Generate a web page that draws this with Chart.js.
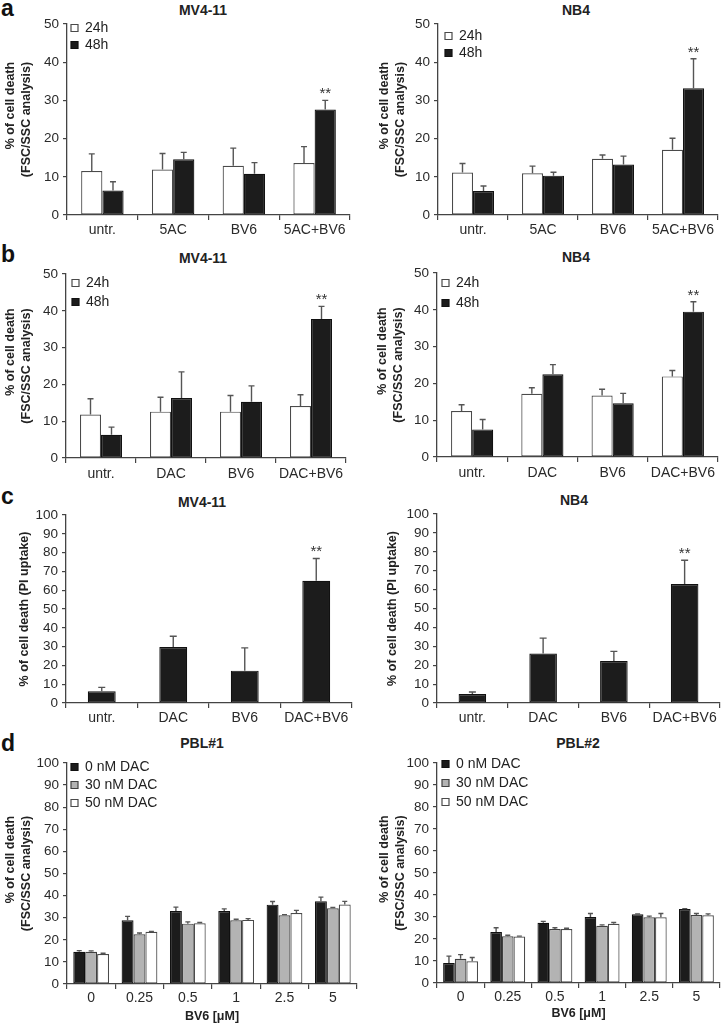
<!DOCTYPE html>
<html>
<head>
<meta charset="utf-8">
<script src="https://cdn.jsdelivr.net/npm/chart.js@4.4.1/dist/chart.umd.min.js"></script>
<style>
html,body{margin:0;padding:0;background:#fff;}
body{width:722px;height:1024px;overflow:hidden;position:relative;font-family:"Liberation Sans",Arial,sans-serif;}
canvas{position:absolute;}
.ttl{position:absolute;font-weight:bold;font-size:14px;line-height:16px;color:#222;transform:translateX(-50%);white-space:nowrap;}
.lbl{position:absolute;font-weight:bold;font-size:23px;line-height:23px;color:#111;}
</style>
</head>
<body>
<div class="lbl" style="left:1px;top:-3px">a</div>
<div class="lbl" style="left:1px;top:243px">b</div>
<div class="lbl" style="left:1px;top:485px">c</div>
<div class="lbl" style="left:1px;top:732px">d</div>
<div class="ttl" style="left:203px;top:2px">MV4-11</div>
<div class="ttl" style="left:576px;top:2px">NB4</div>
<div class="ttl" style="left:203px;top:250px">MV4-11</div>
<div class="ttl" style="left:576px;top:249px">NB4</div>
<div class="ttl" style="left:202px;top:494px">MV4-11</div>
<div class="ttl" style="left:574px;top:492px">NB4</div>
<div class="ttl" style="left:202px;top:735px">PBL#1</div>
<div class="ttl" style="left:578px;top:735px">PBL#2</div>
<script>
// ---------------- DATA ----------------
const catsA = ['untr.', '5AC', 'BV6', '5AC+BV6'];
const catsB = ['untr.', 'DAC', 'BV6', 'DAC+BV6'];
const catsD = ['0', '0.25', '0.5', '1', '2.5', '5'];
const ticks50 = [0, 10, 20, 30, 40, 50];
const ticks100 = [0, 10, 20, 30, 40, 50, 60, 70, 80, 90, 100];
const stars4 = ['', '', '', '**'];

// panel a: 5AC
const aMV_24h = [11.5, 11.9, 12.9, 13.6];
const aMV_24h_sd = [4.5, 4.2, 4.6, 4.3];
const aMV_48h = [6.4, 14.6, 10.8, 27.6];
const aMV_48h_sd = [2.3, 1.8, 2.9, 2.4];
const aNB_24h = [11.1, 10.9, 14.7, 17.1];
const aNB_24h_sd = [2.4, 1.9, 1.0, 3.0];
const aNB_48h = [6.3, 10.3, 13.2, 33.2];
const aNB_48h_sd = [1.3, 0.9, 2.2, 7.7];

// panel b: DAC (FSC/SSC)
const bMV_24h = [11.8, 12.6, 12.6, 14.1];
const bMV_24h_sd = [4.3, 3.9, 4.4, 3.1];
const bMV_48h = [6.3, 16.3, 15.3, 37.8];
const bMV_48h_sd = [2.1, 7.1, 4.3, 3.4];
const bNB_24h = [12.5, 17.2, 16.7, 21.9];
const bNB_24h_sd = [1.7, 1.6, 1.7, 1.6];
const bNB_48h = [7.5, 22.5, 14.6, 39.5];
const bNB_48h_sd = [2.7, 2.6, 2.7, 2.7];

// panel c: DAC (PI uptake)
const cMV = [6.2, 29.8, 17.2, 65.0];
const cMV_sd = [2.1, 5.7, 12.1, 11.9];
const cNB = [4.8, 26.2, 22.2, 62.9];
const cNB_sd = [1.0, 8.1, 5.1, 12.6];

// panel d: PBL
const d1_0 = [14.6, 28.8, 33.0, 33.0, 35.9, 37.5];
const d1_0_sd = [0.5, 1.8, 1.8, 1.0, 1.4, 1.8];
const d1_30 = [14.6, 22.5, 27.3, 28.8, 31.1, 34.3];
const d1_30_sd = [0.4, 0.6, 0.8, 0.5, 0.3, 0.3];
const d1_50 = [13.6, 23.6, 27.5, 29.0, 32.1, 36.0];
const d1_50_sd = [0.3, 0.2, 0.3, 0.6, 1.2, 1.4];
const d2_0 = [9.1, 23.2, 27.4, 30.0, 31.2, 33.6];
const d2_0_sd = [3.1, 1.9, 0.6, 1.6, 0.2, 0.2];
const d2_30 = [11.0, 21.2, 24.5, 26.0, 29.9, 30.9];
const d2_30_sd = [1.9, 0.5, 0.6, 0.4, 0.5, 0.7];
const d2_50 = [9.9, 21.1, 24.5, 26.9, 29.9, 30.8];
const d2_50_sd = [1.7, 0.2, 0.4, 0.6, 1.7, 0.6];

// ---------------- STYLE / LAYOUT ----------------
const FONT = '"Liberation Sans", Arial, sans-serif';
const STYLE = {
  black: {fill: '#1c1c1c', stroke: '#111'},
  white: {fill: '#ffffff', stroke: '#4a4a4a'},
  grey:  {fill: '#b3b3b3', stroke: '#404040'}
};
const LAYOUT = {
  aL: {x:0,   y:0,   w:361, h:245, pt:24, pr:11, yw:67, xh:30, tp:3,  tickPad:2},
  aR: {x:361, y:0,   w:361, h:245, pt:24, pr:4,  yw:77, xh:30, tp:16, tickPad:2},
  bL: {x:0,   y:245, w:361, h:240, pt:29, pr:15, yw:66, xh:27, tp:3,  tickPad:3},
  bR: {x:361, y:245, w:361, h:240, pt:28, pr:4,  yw:76, xh:28, tp:14, tickPad:3},
  cL: {x:0,   y:485, w:361, h:250, pt:30, pr:9,  yw:66, xh:32, tp:17, tickPad:2},
  cR: {x:361, y:485, w:361, h:250, pt:29, pr:2,  yw:76, xh:32, tp:24, tickPad:2},
  dL: {x:0,   y:735, w:361, h:289, pt:28, pr:4,  yw:67, xh:40, tp:3,  tickPad:1, xtPad:0},
  dR: {x:361, y:735, w:361, h:289, pt:28, pr:2,  yw:76, xh:41, tp:16, tickPad:1, xtPad:3}
};
const LEGEND_POS = {
  aL: {x:71, y:28, pad:3},
  aR: {x:84, y:36, pad:3},
  bL: {x:72, y:38, pad:5},
  bR: {x:81, y:38, pad:6},
  dL: {x:71, y:32, pad:4},
  dR: {x:81, y:29, pad:5}
};
const Y_TITLE_2 = ['\u00a0'.repeat(8) + '% of cell death', '(FSC/SSC analysis)'];
const Y_TITLE_PI = '% of cell death (PI uptake)';

// ---------------- PLUGINS ----------------
const errorBarsPlugin = {
  id: 'errorBars',
  afterDatasetsDraw(chart, args, opts) {
    const ctx = chart.ctx, y = chart.scales.y;
    chart.data.datasets.forEach((ds, di) => {
      const meta = chart.getDatasetMeta(di);
      meta.data.forEach((bar, i) => {
        const v = ds.data[i];
        const e = ds.errors ? ds.errors[i] : null;
        let yCap = bar.y;
        if (e != null) {
          yCap = y.getPixelForValue(v + e);
          ctx.save();
          ctx.strokeStyle = '#555';
          ctx.lineWidth = 1.4;
          ctx.beginPath();
          ctx.moveTo(bar.x, bar.y);
          ctx.lineTo(bar.x, yCap);
          ctx.moveTo(bar.x - opts.cap, yCap);
          ctx.lineTo(bar.x + opts.cap, yCap);
          ctx.stroke();
          ctx.restore();
        }
        if (ds.stars && ds.stars[i]) {
          ctx.save();
          ctx.fillStyle = '#333';
          ctx.font = '15px ' + FONT;
          ctx.textAlign = 'center';
          ctx.textBaseline = 'alphabetic';
          ctx.fillText(ds.stars[i], bar.x, yCap - 2);
          ctx.restore();
        }
      });
    });
  }
};
const legendPlacePlugin = {
  id: 'legendPlace',
  afterLayout(chart, args, opts) {
    const lg = chart.legend;
    if (!lg || opts.x == null) return;
    const ih = 14;
    lg.left = opts.x - opts.pad;
    lg.top = opts.y - ih / 2 - opts.pad;
    lg.right = lg.left + lg.width;
    lg.bottom = lg.top + lg.height;
  }
};

// ---------------- BUILDER ----------------
function makeChart(key, labels, series, o) {
  const g = LAYOUT[key];
  const lp = LEGEND_POS[key];
  const cv = document.createElement('canvas');
  cv.width = g.w; cv.height = g.h;
  cv.style.left = g.x + 'px'; cv.style.top = g.y + 'px';
  cv.style.width = g.w + 'px'; cv.style.height = g.h + 'px';
  document.body.appendChild(cv);
  new Chart(cv, {
    type: 'bar',
    data: {
      labels: labels,
      datasets: series.map(s => ({
        label: s.label,
        data: s.data,
        errors: s.err,
        stars: s.stars,
        backgroundColor: STYLE[s.style].fill,
        borderColor: STYLE[s.style].stroke,
        borderWidth: 1.2,
        borderSkipped: false,
        categoryPercentage: o.catPct,
        barPercentage: 1
      }))
    },
    options: {
      responsive: false,
      animation: false,
      devicePixelRatio: 1,
      layout: {padding: {left: 0, top: g.pt, right: g.pr, bottom: 0}},
      plugins: {
        tooltip: {enabled: false},
        errorBars: {cap: o.cap},
        legendPlace: lp || {},
        legend: lp ? {
          display: true,
          position: 'chartArea',
          align: 'start',
          labels: {
            boxWidth: 7, boxHeight: 7, padding: lp.pad,
            color: '#222',
            font: {family: FONT, size: 14}
          }
        } : {display: false}
      },
      scales: {
        x: {
          type: 'category',
          offset: true,
          grid: {offset: true, drawOnChartArea: false, drawTicks: true, tickLength: 5, color: '#444', lineWidth: 1.2},
          border: {display: true, color: '#444', width: 1.3},
          ticks: {color: '#2a2a2a', font: {family: FONT, size: 14}, padding: g.tickPad, autoSkip: false, maxRotation: 0},
          title: o.xTitle ? {display: true, text: o.xTitle, color: '#222',
                  font: {family: FONT, size: 12.5, weight: 'bold', lineHeight: 1.2},
                  padding: {top: 0, bottom: g.xtPad || 0}} : {display: false},
          afterFit: s => { s.height = g.xh; }
        },
        y: {
          min: 0,
          max: o.yTicks[o.yTicks.length - 1],
          afterBuildTicks: s => { s.ticks = o.yTicks.map(v => ({value: v})); },
          grid: {drawOnChartArea: false, drawTicks: true, tickLength: 4, color: '#444', lineWidth: 1.2},
          border: {display: true, color: '#444', width: 1.3},
          ticks: {color: '#2a2a2a', font: {family: FONT, size: 13.5}, padding: 4, autoSkip: false},
          title: {display: true, text: o.yTitle, color: '#222',
                  font: {family: FONT, size: 12.5, weight: 'bold', lineHeight: 1.25},
                  padding: {top: g.tp, bottom: 0}},
          afterFit: s => { s.width = g.yw; }
        }
      }
    },
    plugins: [errorBarsPlugin, legendPlacePlugin]
  });
}

const ab = {catPct: 0.6, cap: 3, yTicks: ticks50, yTitle: Y_TITLE_2};
const cc = {catPct: 0.39, cap: 3.5, yTicks: ticks100, yTitle: Y_TITLE_PI};
const dd = {catPct: 0.74, cap: 2.5, yTicks: ticks100, yTitle: Y_TITLE_2, xTitle: 'BV6 [\u03bcM]'};

makeChart('aL', catsA, [
  {label: '24h', data: aMV_24h, err: aMV_24h_sd, style: 'white'},
  {label: '48h', data: aMV_48h, err: aMV_48h_sd, style: 'black', stars: stars4}
], ab);
makeChart('aR', catsA, [
  {label: '24h', data: aNB_24h, err: aNB_24h_sd, style: 'white'},
  {label: '48h', data: aNB_48h, err: aNB_48h_sd, style: 'black', stars: stars4}
], ab);
makeChart('bL', catsB, [
  {label: '24h', data: bMV_24h, err: bMV_24h_sd, style: 'white'},
  {label: '48h', data: bMV_48h, err: bMV_48h_sd, style: 'black', stars: stars4}
], ab);
makeChart('bR', catsB, [
  {label: '24h', data: bNB_24h, err: bNB_24h_sd, style: 'white'},
  {label: '48h', data: bNB_48h, err: bNB_48h_sd, style: 'black', stars: stars4}
], ab);
makeChart('cL', catsB, [
  {label: 'PI', data: cMV, err: cMV_sd, style: 'black', stars: stars4}
], cc);
makeChart('cR', catsB, [
  {label: 'PI', data: cNB, err: cNB_sd, style: 'black', stars: stars4}
], cc);
makeChart('dL', catsD, [
  {label: '0 nM DAC', data: d1_0, err: d1_0_sd, style: 'black'},
  {label: '30 nM DAC', data: d1_30, err: d1_30_sd, style: 'grey'},
  {label: '50 nM DAC', data: d1_50, err: d1_50_sd, style: 'white'}
], dd);
makeChart('dR', catsD, [
  {label: '0 nM DAC', data: d2_0, err: d2_0_sd, style: 'black'},
  {label: '30 nM DAC', data: d2_30, err: d2_30_sd, style: 'grey'},
  {label: '50 nM DAC', data: d2_50, err: d2_50_sd, style: 'white'}
], dd);
</script>
</body>
</html>
